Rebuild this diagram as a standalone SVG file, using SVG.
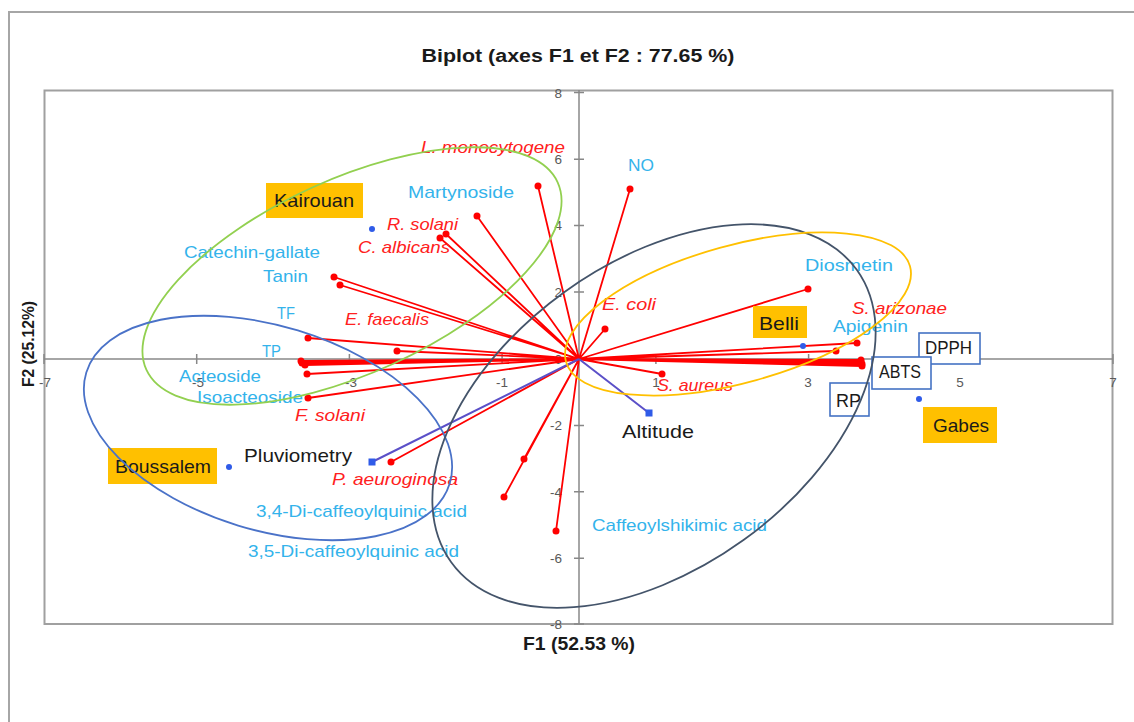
<svg xmlns="http://www.w3.org/2000/svg" width="1134" height="722" viewBox="0 0 1134 722">
<style>
text{font-family:"Liberation Sans",Arial,sans-serif}
.cy{fill:#33B3EB;font-size:17px}
.rd{fill:#FF2020;font-size:17px;font-style:italic}
.bk{fill:#1A1A1A;font-size:19px}
.tk{fill:#595959;font-size:13.5px}
.ttl{fill:#1A1A1A;font-weight:bold}
.vec{stroke:#FF0000;stroke-width:1.8;fill:none}
.pv{stroke:#5B50C8;stroke-width:2;fill:none}
.dot{fill:#FF0000}
.obs{fill:#2F5BE8}
.sq{fill:#2F5BE8}
.ob{fill:#FFC000}
.wb{fill:#FFFFFF;stroke:#4472C4;stroke-width:1.6}
.ell{fill:none;stroke-width:1.8}
.ax{stroke:#888888;stroke-width:1.5;fill:none}
</style>
<rect x="0" y="0" width="1134" height="722" fill="#FFFFFF"/>
<rect x="9" y="12" width="1140" height="720" fill="#FFFFFF" stroke="#A6A6A6" stroke-width="2"/>
<text class="ttl" x="578" y="62" font-size="18" text-anchor="middle" textLength="313" lengthAdjust="spacingAndGlyphs">Biplot (axes F1 et F2 : 77.65 %)</text>
<rect x="44.5" y="90.5" width="1068" height="533.5" fill="#FFFFFF" stroke="#A0A0A0" stroke-width="2"/>
<g id="axes">
<line class="ax" x1="44" y1="359" x2="1113" y2="359"/>
<line class="ax" x1="579" y1="90" x2="579" y2="624"/>
<path class="ax" d="M44 354v10M196.7 354v10M349.4 354v10M502.1 354v10M655.9 354v10M808.6 354v10M961.3 354v10M1113 354v10"/>
<path class="ax" d="M574 92.6h10M574 159.2h10M574 225.6h10M574 292.1h10M574 425.4h10M574 491.8h10M574 558.2h10M574 624h10"/>
<text class="tk" x="45" y="387" text-anchor="middle">-7</text>
<text class="tk" x="198" y="387" text-anchor="middle">-5</text>
<text class="tk" x="351" y="387" text-anchor="middle">-3</text>
<text class="tk" x="502" y="387" text-anchor="middle">-1</text>
<text class="tk" x="656" y="387" text-anchor="middle">1</text>
<text class="tk" x="808" y="387" text-anchor="middle">3</text>
<text class="tk" x="960" y="387" text-anchor="middle">5</text>
<text class="tk" x="1113" y="387" text-anchor="middle">7</text>
<text class="tk" x="562" y="98" text-anchor="end">8</text>
<text class="tk" x="562" y="164" text-anchor="end">6</text>
<text class="tk" x="562" y="230" text-anchor="end">4</text>
<text class="tk" x="562" y="297" text-anchor="end">2</text>
<text class="tk" x="562" y="364" text-anchor="end">0</text>
<text class="tk" x="562" y="430" text-anchor="end">-2</text>
<text class="tk" x="562" y="497" text-anchor="end">-4</text>
<text class="tk" x="562" y="563" text-anchor="end">-6</text>
<text class="tk" x="562" y="629" text-anchor="end">-8</text>
<text class="ttl" x="579" y="650" font-size="18" text-anchor="middle" textLength="112" lengthAdjust="spacingAndGlyphs">F1 (52.53 %)</text>
<text class="ttl" transform="translate(34 344) rotate(-90)" font-size="16" text-anchor="middle" textLength="86" lengthAdjust="spacingAndGlyphs">F2 (25.12%)</text>
</g>
<g id="connectors">
<path class="vec" d="M579 359L538 186M579 359L630 189M579 359L477 216M579 359L446 234M579 359L440 238M579 359L334 277M579 359L340 285M579 359L308 338M579 359L397 351M579 359L301 361M579 359L302 363M579 359L305 365M579 359L307 374M579 359L308 398M579 359L391 462M579 359L504 497M579 359L524 459M579 359L556 531M579 359L605 329M579 359L662 374M579 359L808 289M579 359L857 343M579 359L836 351M579 359L861 360M579 359L861 362M579 359L862 364M579 359L862 366"/>
<path class="pv" d="M579 359L372 462M579 359L649 413"/>
<g class="dot">
<circle cx="538" cy="186" r="3.5"/><circle cx="630" cy="189" r="3.5"/><circle cx="477" cy="216" r="3.5"/><circle cx="446" cy="234" r="3.5"/><circle cx="440" cy="238" r="3.5"/><circle cx="334" cy="277" r="3.5"/><circle cx="340" cy="285" r="3.5"/><circle cx="308" cy="338" r="3.5"/><circle cx="397" cy="351" r="3.5"/><circle cx="301" cy="361" r="3.5"/><circle cx="302" cy="363" r="3.5"/><circle cx="305" cy="365" r="3.5"/><circle cx="307" cy="374" r="3.5"/><circle cx="308" cy="398" r="3.5"/><circle cx="391" cy="462" r="3.5"/><circle cx="504" cy="497" r="3.5"/><circle cx="524" cy="459" r="3.5"/><circle cx="556" cy="531" r="3.5"/><circle cx="605" cy="329" r="3.5"/><circle cx="662" cy="374" r="3.5"/><circle cx="808" cy="289" r="3.5"/><circle cx="857" cy="343" r="3.5"/><circle cx="836" cy="351" r="3.5"/><circle cx="861" cy="360" r="3.5"/><circle cx="861" cy="362" r="3.5"/><circle cx="862" cy="364" r="3.5"/><circle cx="862" cy="366" r="3.5"/>
</g>
<rect class="sq" x="368.5" y="458.5" width="7" height="7"/>
<rect class="sq" x="645.5" y="409.5" width="7" height="7"/>
</g>
<g id="var-labels">
<g id="martynoside"><text class="cy" x="408" y="198" textLength="106" lengthAdjust="spacingAndGlyphs">Martynoside</text></g>
<g id="catechin-gallate"><text class="cy" x="184" y="258" textLength="136" lengthAdjust="spacingAndGlyphs">Catechin-gallate</text></g>
<g id="tanin"><text class="cy" x="263" y="282" textLength="45" lengthAdjust="spacingAndGlyphs">Tanin</text></g>
<g id="tf"><text class="cy" x="277" y="319" textLength="18" lengthAdjust="spacingAndGlyphs">TF</text></g>
<g id="tp"><text class="cy" x="262" y="357" textLength="19" lengthAdjust="spacingAndGlyphs">TP</text></g>
<g id="acteoside"><text class="cy" x="179" y="382" textLength="82" lengthAdjust="spacingAndGlyphs">Acteoside</text></g>
<g id="isoacteoside"><text class="cy" x="197" y="403" textLength="106" lengthAdjust="spacingAndGlyphs">Isoacteoside</text></g>
<g id="no"><text class="cy" x="628" y="171" textLength="26" lengthAdjust="spacingAndGlyphs">NO</text></g>
<g id="diosmetin"><text class="cy" x="805" y="271" textLength="88" lengthAdjust="spacingAndGlyphs">Diosmetin</text></g>
<g id="apigenin"><text class="cy" x="833" y="332" textLength="75" lengthAdjust="spacingAndGlyphs">Apigenin</text></g>
<g id="di34"><text class="cy" x="256" y="517" textLength="211" lengthAdjust="spacingAndGlyphs">3,4-Di-caffeoylquinic acid</text></g>
<g id="di35"><text class="cy" x="248" y="557" textLength="211" lengthAdjust="spacingAndGlyphs">3,5-Di-caffeoylquinic acid</text></g>
<g id="caffeoylshikimic"><text class="cy" x="592" y="531" textLength="175" lengthAdjust="spacingAndGlyphs">Caffeoylshikimic acid</text></g>
<g id="l-mono"><text class="rd" x="421" y="153" textLength="144" lengthAdjust="spacingAndGlyphs">L. monocytogene</text></g>
<g id="r-solani"><text class="rd" x="387" y="230" textLength="71" lengthAdjust="spacingAndGlyphs">R. solani</text></g>
<g id="c-albicans"><text class="rd" x="358" y="253" textLength="92" lengthAdjust="spacingAndGlyphs">C. albicans</text></g>
<g id="e-faecalis"><text class="rd" x="345" y="325" textLength="84" lengthAdjust="spacingAndGlyphs">E. faecalis</text></g>
<g id="f-solani"><text class="rd" x="295" y="421" textLength="70" lengthAdjust="spacingAndGlyphs">F. solani</text></g>
<g id="p-aeruginosa"><text class="rd" x="332" y="485" textLength="126" lengthAdjust="spacingAndGlyphs">P. aeuroginosa</text></g>
<g id="e-coli"><text class="rd" x="602" y="310" textLength="54" lengthAdjust="spacingAndGlyphs">E. coli</text></g>
<g id="s-arizonae"><text class="rd" x="852" y="314" textLength="95" lengthAdjust="spacingAndGlyphs">S. arizonae</text></g>
<g id="s-aureus"><text class="rd" x="657" y="391" textLength="76" lengthAdjust="spacingAndGlyphs">S. aureus</text></g>
<g id="pluviometry"><text class="bk" x="244" y="462" textLength="108" lengthAdjust="spacingAndGlyphs">Pluviometry</text></g>
<g id="altitude"><text class="bk" x="622" y="438" textLength="72" lengthAdjust="spacingAndGlyphs">Altitude</text></g>
<g id="dpph"><rect class="wb" x="919" y="333" width="61" height="31"/><text class="bk" x="925" y="354" font-size="18" textLength="47" lengthAdjust="spacingAndGlyphs">DPPH</text></g>
<g id="abts"><rect class="wb" x="872" y="357" width="59" height="32"/><text class="bk" x="879" y="378" font-size="18" textLength="42" lengthAdjust="spacingAndGlyphs">ABTS</text></g>
<g id="rp"><rect class="wb" x="830" y="383" width="39" height="33"/><text class="bk" x="836" y="407" font-size="18" textLength="25" lengthAdjust="spacingAndGlyphs">RP</text></g>
</g>
<g id="observations">
<g id="kairouan"><rect class="ob" x="266" y="183" width="97" height="35"/><text class="bk" x="274" y="207" font-size="20" textLength="80" lengthAdjust="spacingAndGlyphs">Kairouan</text><circle class="obs" cx="372" cy="229" r="3"/></g>
<g id="belli"><rect class="ob" x="753" y="306" width="54" height="32"/><text class="bk" x="759" y="330" font-size="20" textLength="40" lengthAdjust="spacingAndGlyphs">Belli</text><circle class="obs" cx="803" cy="346" r="3"/></g>
<g id="gabes"><rect class="ob" x="923" y="407" width="74" height="36"/><text class="bk" x="933" y="432" font-size="20" textLength="56" lengthAdjust="spacingAndGlyphs">Gabes</text><circle class="obs" cx="919" cy="399" r="3"/></g>
<g id="boussalem"><rect class="ob" x="108" y="448" width="109" height="36"/><text class="bk" x="115" y="473" font-size="20" textLength="96" lengthAdjust="spacingAndGlyphs">Boussalem</text><circle class="obs" cx="229" cy="467" r="3"/></g>
</g>
<g id="ellipses">
<ellipse class="ell" stroke="#92D050" cx="352" cy="276" rx="226" ry="97" transform="rotate(-24.5 352 276)"/>
<ellipse class="ell" stroke="#4A72C8" cx="268" cy="428" rx="190" ry="102" transform="rotate(17 268 428)"/>
<ellipse class="ell" stroke="#44546A" cx="654" cy="416" rx="250" ry="153" transform="rotate(-35.8 654 416)"/>
<ellipse class="ell" stroke="#FFC000" cx="738" cy="314" rx="178.5" ry="68.6" transform="rotate(-15.5 738 314)"/>
</g>
</svg>
